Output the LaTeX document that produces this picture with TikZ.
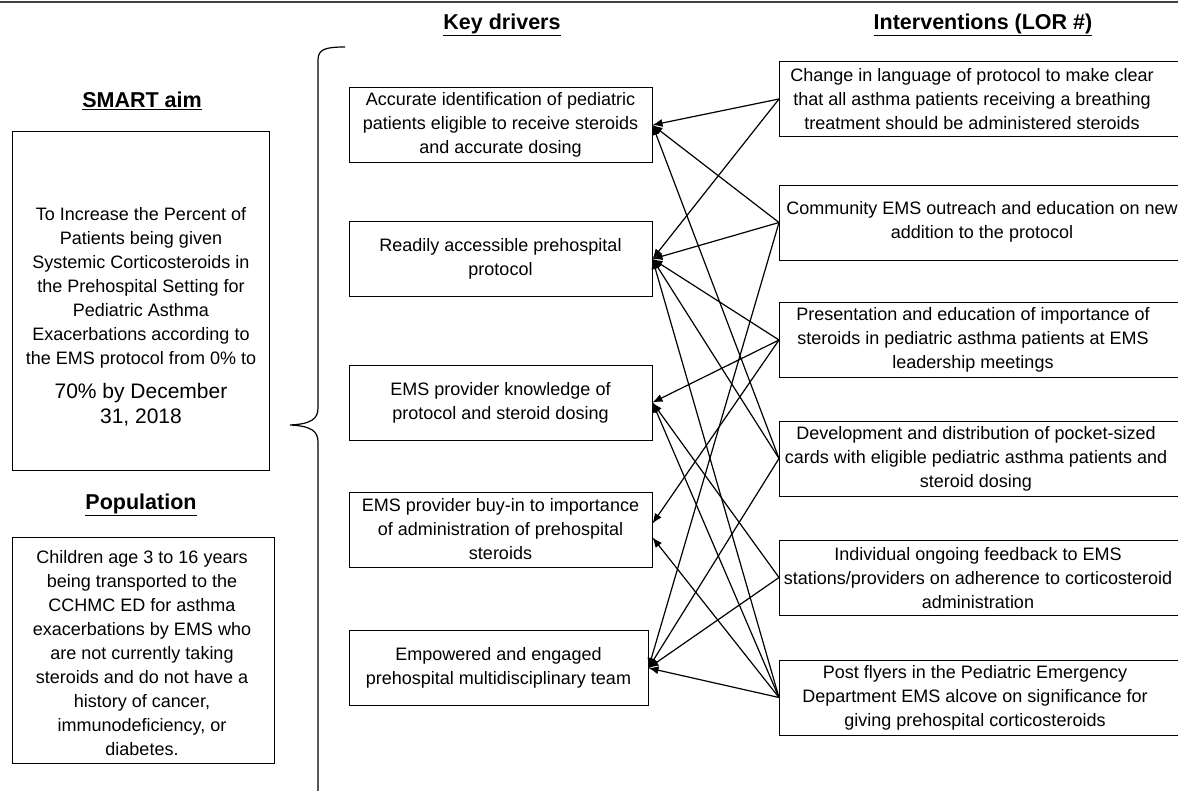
\documentclass[tikz,border=0pt]{standalone}
\usepackage{fontspec}
\setmainfont{Liberation Sans}
\usetikzlibrary{arrows.meta}
\newcommand{\bodyf}{\fontsize{18}{24}\selectfont}
\newcommand{\bigf}{\fontsize{21}{25}\selectfont}
\newcommand{\headf}{\fontsize{21.5}{26}\selectfont\bfseries}
\tikzset{
  box/.style={draw, line width=1pt, inner sep=0pt},
  drv/.style={box, minimum width=303pt, minimum height=75pt, align=center, font=\bodyf},
  intv/.style={box, minimum width=403pt, minimum height=75pt, anchor=west},
  txt/.style={align=center, font=\bodyf, inner sep=0pt},
  head/.style={font=\headf, inner sep=0pt},
  link/.style={line width=1.2pt, -{Latex[length=10pt,width=8pt]}}
}
\begin{document}
\begin{tikzpicture}[x=1pt,y=-1pt]
\useasboundingbox (0,0) rectangle (1178,790);
\draw[line width=2pt, black!75] (0,2) -- (1178,2);

% headings
\node[head] (hkd) at (502,25) {\underline{Key drivers}};
\node[head] (hint) at (983,25) {\underline{Interventions (LOR \#)}};
\node[head] (haim) at (142,101) {\underline{SMART aim}};
\node[head] (hpop) at (141,505) {\underline{Population}};

% SMART aim box
\node[box, minimum width=257pt, minimum height=339pt] (aim) at (140.5,300.5) {};
\node[txt] (aimt) at (141,288) {To Increase the Percent of\\ Patients being given\\ Systemic Corticosteroids in\\ the Prehospital Setting for\\ Pediatric Asthma\\ Exacerbations according to\\ the EMS protocol from 0\% to};
\node[txt, font=\bigf] (aimt2) at (141,405) {70\% by December\\ 31, 2018};

% Population box
\node[box, minimum width=262pt, minimum height=226pt] (pop) at (143,650) {};
\node[txt] (popt) at (142,653) {Children age 3 to 16 years\\ being transported to the\\ CCHMC ED for asthma\\ exacerbations by EMS who\\ are not currently taking\\ steroids and do not have a\\ history of cancer,\\ immunodeficiency, or\\ diabetes.};

% brace
\draw[line width=1.2pt] (345,47) .. controls (326,47) and (318,49) .. (318,60)
  -- (318,408) .. controls (318,419) and (311,424) .. (290,425)
  .. controls (311,426) and (318,431) .. (318,442) -- (318,792);

% drivers
\node[drv] (d1) at (500.5,125) {Accurate identification of pediatric\\ patients eligible to receive steroids\\ and accurate dosing};
\node[drv] (d2) at (500.5,259) {Readily accessible prehospital\\ protocol};
\node[drv] (d3) at (500.5,402.5) {EMS provider knowledge of\\ protocol and steroid dosing};
\node[drv] (d4) at (500.5,529.5) {EMS provider buy-in to importance\\ of administration of prehospital\\ steroids};
\node[drv, minimum width=299pt] (d5) at (498.5,668) {Empowered and engaged\\ prehospital multidisciplinary team};

% interventions
\node[intv] (i1) at (779,99) {};
\node[intv] (i2) at (779,222.5) {};
\node[intv] (i3) at (779,340) {};
\node[intv] (i4) at (779,458.5) {};
\node[intv] (i5) at (779,577.5) {};
\node[intv] (i6) at (779,697.5) {};
\node[txt] (t1) at (972,99) {Change in language of protocol to make clear\\ that all asthma patients receiving a breathing\\ treatment should be administered steroids};
\node[txt] (t2) at (982,222) {Community EMS outreach and education on new\\ addition to the protocol};
\node[txt] (t3) at (973,340) {Presentation and education of importance of\\ steroids in pediatric asthma patients at EMS\\ leadership meetings};
\node[txt] (t4) at (976,459) {Development and distribution of pocket-sized\\ cards with eligible pediatric asthma patients and\\ steroid dosing};
\node[txt] (t5) at (978,578) {Individual ongoing feedback to EMS\\ stations/providers on adherence to corticosteroid\\ administration};
\node[txt] (t6) at (975,698) {Post flyers in the Pediatric Emergency\\ Department EMS alcove on significance for\\ giving prehospital corticosteroids};

% connectors
\draw[link] (i1.west) -- (d1.east);
\draw[link] (i1.west) -- (d2.east);
\draw[link] (i2.west) -- (d1.east);
\draw[link] (i2.west) -- (d2.east);
\draw[link] (i2.west) -- (d5.east);
\draw[link] (i3.west) -- (d2.east);
\draw[link] (i3.west) -- (d3.east);
\draw[link] (i3.west) -- ([yshift=6pt]d4.east);
\draw[link] (i4.west) -- (d1.east);
\draw[link] (i4.west) -- (d2.east);
\draw[link] (i4.west) -- (d5.east);
\draw[link] (i5.west) -- (d3.east);
\draw[link] (i5.west) -- (d5.east);
\draw[link] (i6.west) -- (d2.east);
\draw[link] (i6.west) -- (d3.east);
\draw[link] (i6.west) -- ([yshift=-8pt]d4.east);
\draw[link] (i6.west) -- (d5.east);
\end{tikzpicture}
\end{document}
